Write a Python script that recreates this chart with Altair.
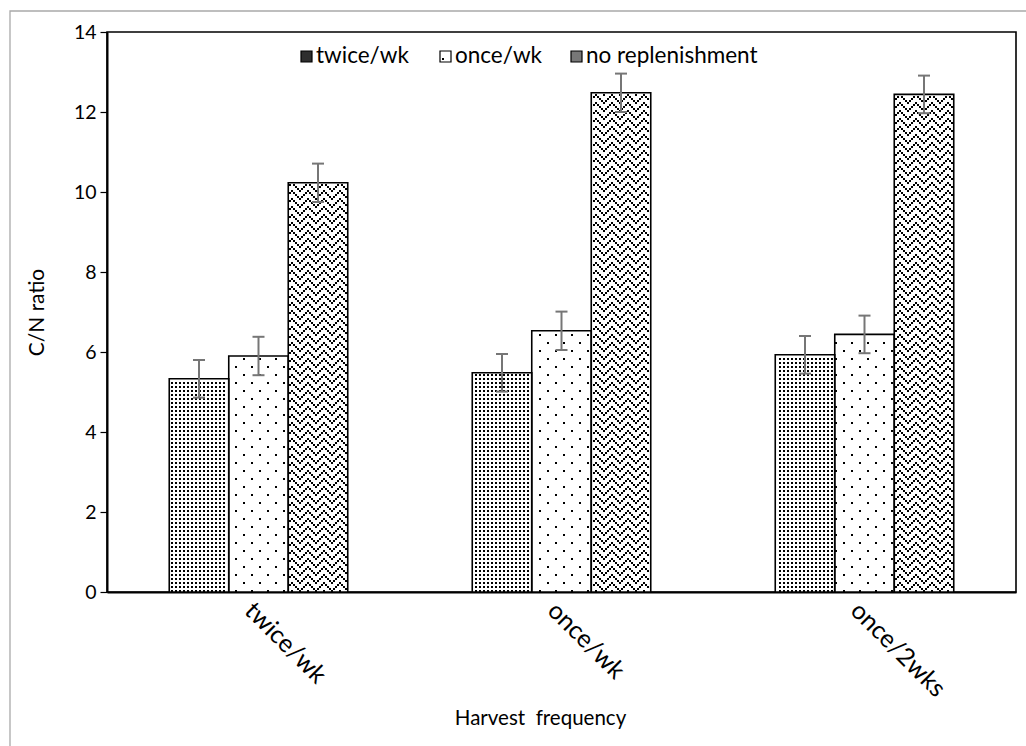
import json
import altair as alt
import pandas as pd

# ---- data -------------------------------------------------------------
groups = ["twice/wk", "once/wk", "once/2wks"]          # harvest frequency
series = ["twice/wk", "once/wk", "no replenishment"]    # replenishment
cn_twice = [5.33, 5.48, 5.93]
cn_once = [5.90, 6.53, 6.44]
cn_none = [10.23, 12.48, 12.44]
err_twice = [0.47, 0.47, 0.47]
err_once = [0.48, 0.48, 0.47]
err_none = [0.48, 0.48, 0.47]
y_ticks = [0, 2, 4, 6, 8, 10, 12, 14]

# ---- geometry / style -------------------------------------------------
W, H = 909, 560            # plot area in pixels
Y_MAX = 14
X_MAX = len(groups)        # one unit per harvest-frequency slot
PX = X_MAX / W             # x data units per pixel
PY = Y_MAX / H             # y data units per pixel
BW = 59.5 * PX             # bar width in x units
CAP = 6 * PX               # half width of error-bar caps
FONT = "Lato"

rows = []
for s, (vals, errs) in enumerate([(cn_twice, err_twice), (cn_once, err_once), (cn_none, err_none)]):
    for g, (v, e) in enumerate(zip(vals, errs)):
        rows.append({"group": groups[g], "g": g, "series": series[s], "s": s, "value": v, "err": e})
df = pd.DataFrame(rows)

x_scale = alt.Scale(domain=[0, X_MAX], nice=False, zero=False)
y_scale = alt.Scale(domain=[0, Y_MAX], nice=False)

label_expr = f"{json.dumps(groups)}[round(datum.value - 0.5)]"
x_axis = alt.Axis(
    values=[g + 0.5 for g in range(len(groups))], labelExpr=label_expr,
    labelAngle=45, labelAlign="left", labelBaseline="middle", labelPadding=14,
    labelOffset=-10, labelFontSize=25, labelColor="black", labelFont=FONT,
    ticks=False, grid=False, domainColor="black", domainWidth=2,
    title="Harvest \u00a0frequency", titleFontSize=20.5, titleFontWeight="normal",
    titleFont=FONT, titleColor="black", titleX=433, titleY=126,
    titleAlign="center", titleBaseline="middle",
)
y_axis = alt.Axis(
    values=y_ticks, tickSize=7, tickColor="black", tickWidth=1.2,
    domainColor="black", domainWidth=2, grid=False,
    labelFontSize=19.5, labelColor="black", labelFont=FONT, labelPadding=4,
    title="C/N ratio", titleFontSize=21, titleFontWeight="normal",
    titleFont=FONT, titleColor="black", titlePadding=26,
)


def xq(field):
    return alt.X(field, scale=x_scale, axis=x_axis)


def yq(field):
    return alt.Y(field, scale=y_scale, axis=y_axis)


base = alt.Chart(df).transform_calculate(
    x0=f"datum.g + 0.5 + (datum.s - 1.5) * {BW}"
).transform_calculate(
    x1=f"datum.x0 + {BW}",
    xc=f"datum.x0 + {BW / 2}",
    lo="datum.value - datum.err",
    hi="datum.value + datum.err",
)

# white bar bodies
bodies = base.mark_rect(fill="white", strokeWidth=0).encode(
    x=xq("x0:Q"), x2="x1:Q", y=yq("value:Q"), y2=alt.datum(0),
)

# fill patterns built from 2-px cells inside each bar:
# dense dots, sparse staggered dots, and stacked zigzag lines
zig_h = "(datum.ix % 8 < 4 ? datum.ix % 8 : 8 - datum.ix % 8)"
pattern_rule = (
    "(datum.s == 0 && datum.ix % 2 == 0 && datum.iy % 2 == 0)"
    " || (datum.s == 1 && ((datum.ix % 8 == 0 && datum.iy % 8 == 0)"
    " || (datum.ix % 8 == 4 && datum.iy % 8 == 4)))"
    f" || (datum.s == 2 && (datum.iy + 8 - {zig_h}) % 4 == 0)"
)
cells = base.transform_calculate(
    ixs=f"sequence(ceil(datum.x0 / {2 * PX}), floor(datum.x1 / {2 * PX}))"
).transform_flatten(["ixs"], as_=["ix"]).transform_calculate(
    iys=f"sequence(0, floor(datum.value / {2 * PY}))"
).transform_flatten(["iys"], as_=["iy"]).transform_filter(
    pattern_rule
).transform_calculate(
    cx0=f"datum.ix * {2 * PX}",
    cx1=f"(datum.ix + 1) * {2 * PX}",
    cy0=f"datum.iy * {2 * PY}",
    cy1=f"(datum.iy + 1) * {2 * PY}",
).mark_rect(fill="black", strokeWidth=0).encode(
    x=xq("cx0:Q"), x2="cx1:Q", y=yq("cy0:Q"), y2="cy1:Q",
)

outlines = base.mark_rect(fillOpacity=0, stroke="black", strokeWidth=1.6).encode(
    x=xq("x0:Q"), x2="x1:Q", y=yq("value:Q"), y2=alt.datum(0),
)

ERR_COLOR = "#767676"
err_stems = base.mark_rule(color=ERR_COLOR, strokeWidth=2).encode(
    x=xq("xc:Q"), y=yq("lo:Q"), y2="hi:Q",
)
caps = base.transform_calculate(ca=f"datum.xc - {CAP}", cb=f"datum.xc + {CAP}")
err_caps_hi = caps.mark_rule(color=ERR_COLOR, strokeWidth=2).encode(
    x=xq("ca:Q"), x2="cb:Q", y=yq("hi:Q"),
)
err_caps_lo = caps.mark_rule(color=ERR_COLOR, strokeWidth=2).encode(
    x=xq("ca:Q"), x2="cb:Q", y=yq("lo:Q"),
)

# legend across the top of the plot
legend_layers = []
legend_items = [
    (series[0], 194, "#2e2e2e"),
    (series[1], 333, "white"),
    (series[2], 464, "#777777"),
]
one = pd.DataFrame({"k": [0]})
for name, lx, fill in legend_items:
    legend_layers.append(
        alt.Chart(one).mark_rect(fill=fill, stroke="black", strokeWidth=1.2).encode(
            x=alt.value(lx), x2=alt.value(lx + 11), y=alt.value(19), y2=alt.value(30)
        )
    )
    legend_layers.append(
        alt.Chart(one).mark_text(
            text=name, font=FONT, fontSize=22.5, align="left", baseline="middle", color="black"
        ).encode(x=alt.value(lx + 15), y=alt.value(24))
    )
legend_layers.append(
    alt.Chart(one).mark_rect(fill="black").encode(
        x=alt.value(335), x2=alt.value(337), y=alt.value(26), y2=alt.value(28)
    )
)

# light frame around the whole figure
frame = alt.Chart(one).mark_rect(fillOpacity=0, stroke="#a9a9a9", strokeWidth=1.3).encode(
    x=alt.value(-97), x2=alt.value(1040), y=alt.value(-21), y2=alt.value(800)
)

chart = alt.layer(
    bodies, cells, outlines, err_stems, err_caps_hi, err_caps_lo, frame, *legend_layers
).properties(
    width=W, height=H,
    background="white",
    autosize=alt.AutoSizeParams(type="none"),
    padding={"left": 107, "top": 32, "right": 10, "bottom": 154},
).configure_view(
    stroke="black", strokeWidth=1.6
)

chart.save("out.html", embed_options={"renderer": "svg", "actions": False})
